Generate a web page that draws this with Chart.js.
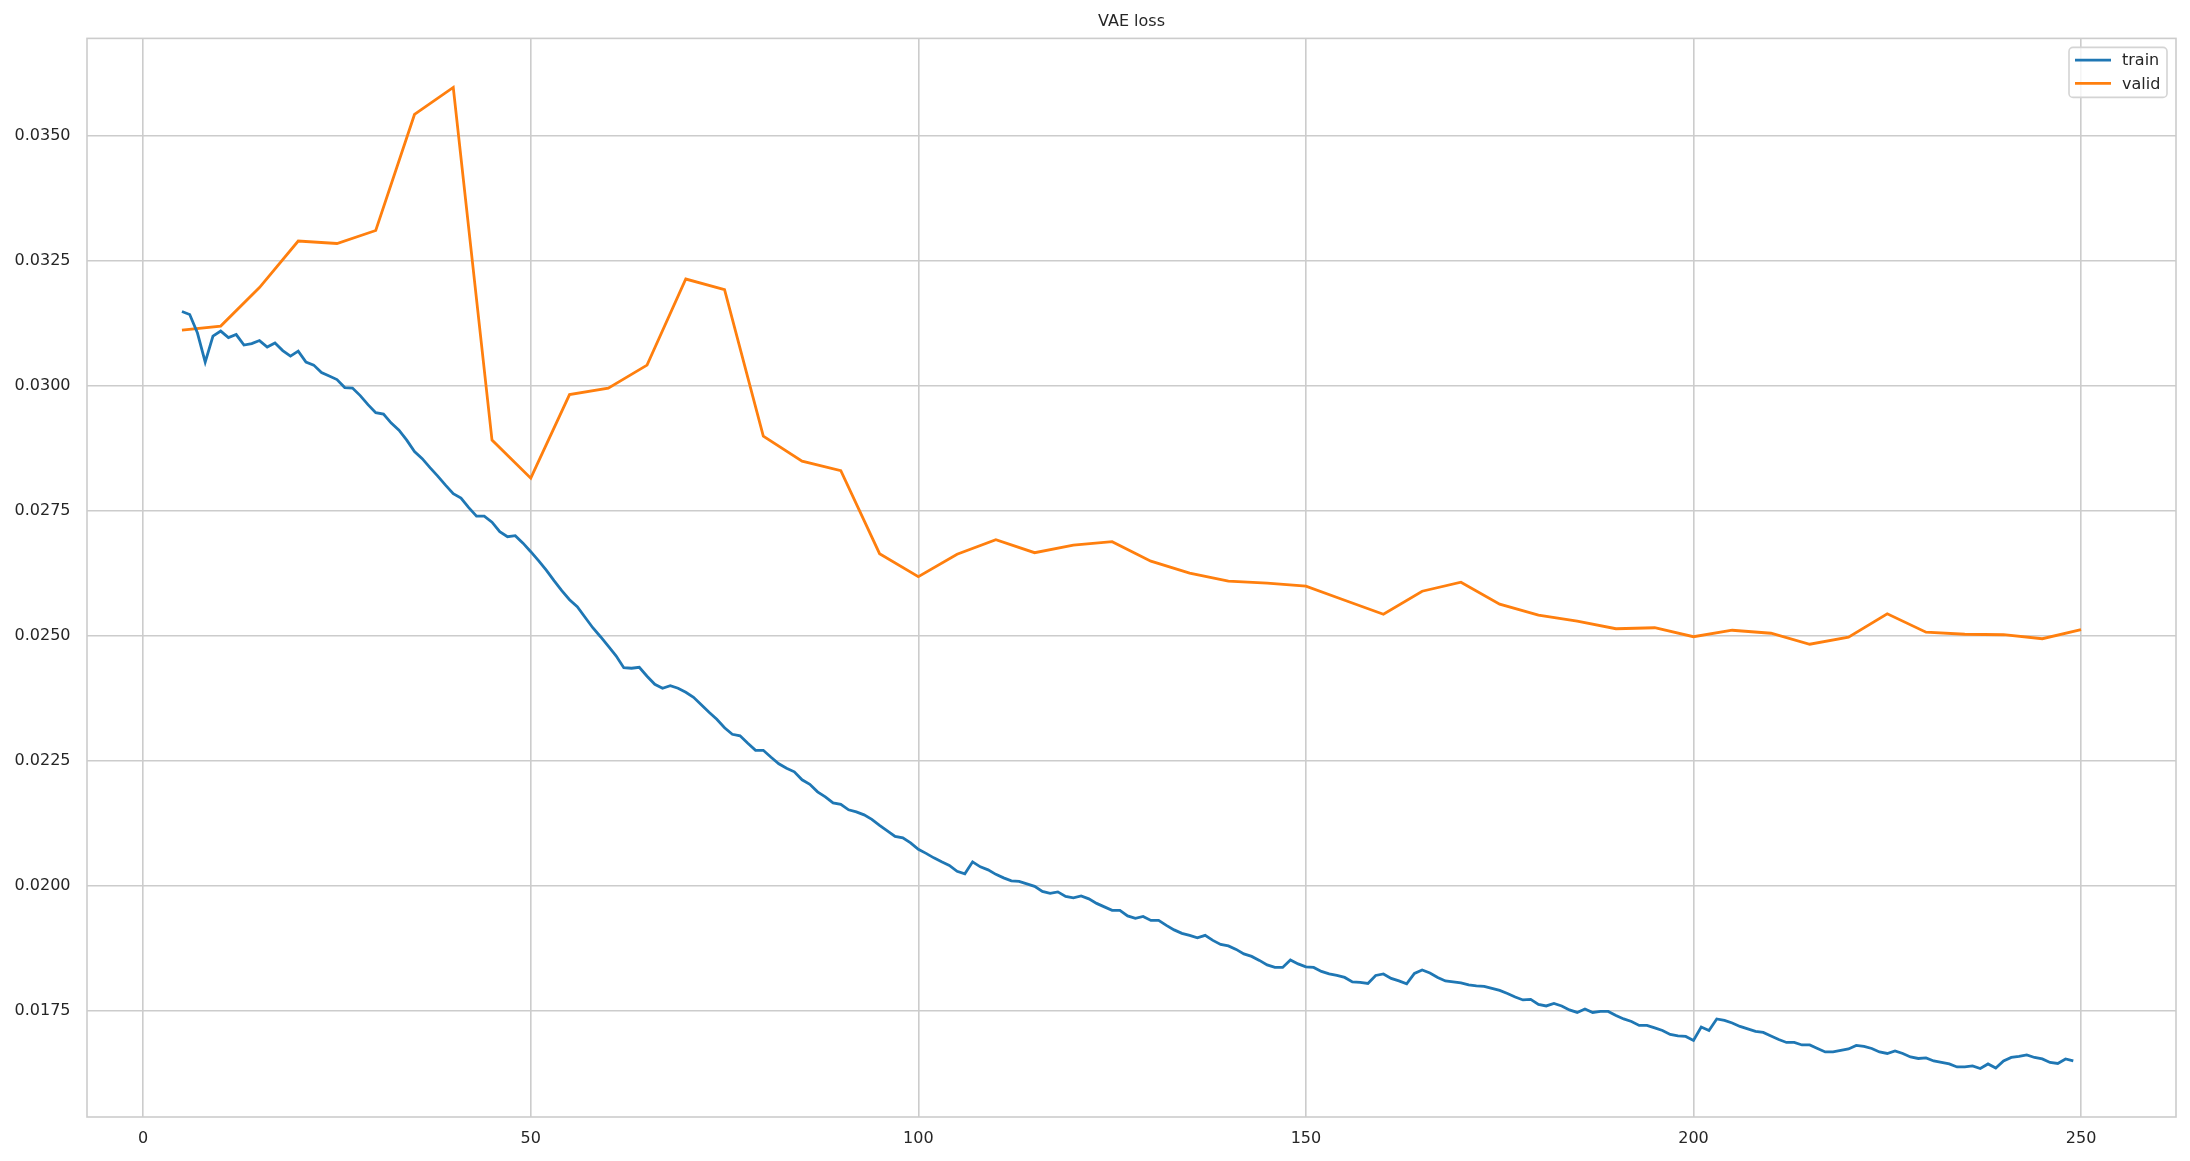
<!DOCTYPE html>
<html>
<head>
<meta charset="utf-8">
<title>VAE loss</title>
<script src="https://cdn.jsdelivr.net/npm/chart.js@4.4.0/dist/chart.umd.min.js"></script>
<style>
  html, body { margin: 0; padding: 0; background: #fff; }
</style>
</head>
<body>
<canvas id="lossChart" width="2190" height="1161"></canvas>
<script>
// train loss, one value per epoch starting at epoch 5
const trainStart = 5;
const trainLoss = [
    0.03148, 0.03142, 0.03105, 0.03047, 0.03099, 0.03109, 0.03096, 0.03102, 0.03081, 0.03084, // 5-14
    0.03090, 0.03077, 0.03085, 0.03070, 0.03059, 0.03069, 0.03047, 0.03041, 0.03026, 0.03019, // 15-24
    0.03012, 0.02996, 0.02995, 0.02980, 0.02962, 0.02946, 0.02943, 0.02925, 0.02911, 0.02891, // 25-34
    0.02868, 0.02854, 0.02836, 0.02819, 0.02801, 0.02784, 0.02775, 0.02756, 0.02739, 0.02739, // 35-44
    0.02727, 0.02708, 0.02698, 0.02700, 0.02685, 0.02668, 0.02650, 0.02631, 0.02610, 0.02590, // 45-54
    0.02572, 0.02558, 0.02537, 0.02516, 0.02498, 0.02479, 0.02460, 0.02436, 0.02435, 0.02437, // 55-64
    0.02419, 0.02403, 0.02395, 0.02400, 0.02395, 0.02387, 0.02377, 0.02362, 0.02347, 0.02333, // 65-74
    0.02316, 0.02303, 0.02300, 0.02285, 0.02271, 0.02271, 0.02257, 0.02244, 0.02235, 0.02228, // 75-84
    0.02212, 0.02203, 0.02188, 0.02178, 0.02166, 0.02163, 0.02152, 0.02148, 0.02142, 0.02133, // 85-94
    0.02121, 0.02110, 0.02099, 0.02096, 0.02086, 0.02073, 0.02065, 0.02056, 0.02048, 0.02041, // 95-104
    0.02029, 0.02024, 0.02048, 0.02038, 0.02032, 0.02023, 0.02016, 0.02010, 0.02009, 0.02004, // 105-114
    0.01999, 0.01989, 0.01985, 0.01988, 0.01979, 0.01976, 0.01980, 0.01974, 0.01965, 0.01958, // 115-124
    0.01951, 0.01951, 0.01940, 0.01935, 0.01939, 0.01931, 0.01931, 0.01921, 0.01912, 0.01905, // 125-134
    0.01901, 0.01896, 0.01901, 0.01891, 0.01883, 0.01880, 0.01873, 0.01864, 0.01859, 0.01851, // 135-144
    0.01842, 0.01837, 0.01837, 0.01852, 0.01844, 0.01838, 0.01837, 0.01829, 0.01824, 0.01821, // 145-154
    0.01817, 0.01808, 0.01807, 0.01805, 0.01821, 0.01824, 0.01815, 0.01810, 0.01804, 0.01825, // 155-164
    0.01832, 0.01826, 0.01817, 0.01810, 0.01808, 0.01806, 0.01802, 0.01800, 0.01799, 0.01795, // 165-174
    0.01791, 0.01785, 0.01778, 0.01772, 0.01773, 0.01763, 0.01760, 0.01765, 0.01760, 0.01752, // 175-184
    0.01747, 0.01754, 0.01747, 0.01749, 0.01749, 0.01741, 0.01734, 0.01729, 0.01721, 0.01721, // 185-194
    0.01716, 0.01711, 0.01703, 0.01700, 0.01699, 0.01691, 0.01718, 0.01711, 0.01734, 0.01731, // 195-204
    0.01726, 0.01719, 0.01714, 0.01709, 0.01707, 0.01700, 0.01693, 0.01687, 0.01687, 0.01682, // 205-214
    0.01682, 0.01675, 0.01668, 0.01668, 0.01671, 0.01674, 0.01681, 0.01679, 0.01675, 0.01668, // 215-224
    0.01665, 0.01670, 0.01665, 0.01658, 0.01655, 0.01656, 0.01650, 0.01647, 0.01644, 0.01638, // 225-234
    0.01638, 0.01640, 0.01635, 0.01644, 0.01636, 0.01650, 0.01657, 0.01659, 0.01662, 0.01657, // 235-244
    0.01654, 0.01647, 0.01645, 0.01654, 0.01650                                              // 245-249
];

// validation loss, every 5 epochs
const validEpochs = [
    5, 10, 15, 20, 25, 30, 35, 40, 45, 50,
    55, 60, 65, 70, 75, 80, 85, 90, 95, 100,
    105, 110, 115, 120, 125, 130, 135, 140, 145, 150,
    155, 160, 165, 170, 175, 180, 185, 190, 195, 200,
    205, 210, 215, 220, 225, 230, 235, 240, 245, 250
];
const validLoss = [
    0.03111, 0.03119, 0.03196, 0.03289, 0.03284, 0.03310, 0.03542, 0.03596, 0.02891, 0.02815,
    0.02982, 0.02995, 0.03041, 0.03213, 0.03192, 0.02899, 0.02849, 0.02830, 0.02664, 0.02618,
    0.02663, 0.02692, 0.02666, 0.02681, 0.02688, 0.02649, 0.02625, 0.02609, 0.02605, 0.02599,
    0.02571, 0.02543, 0.02589, 0.02607, 0.02563, 0.02541, 0.02529, 0.02514, 0.02516, 0.02498,
    0.02511, 0.02505, 0.02483, 0.02497, 0.02544, 0.02507, 0.02503, 0.02502, 0.02494, 0.02512
];

const xTicks = [0, 50, 100, 150, 200, 250];
const chartTitle = 'VAE loss';

const textColor = '#262626';
const gridColor = '#cccccc';
const fontFamily = '"DejaVu Sans", sans-serif';

// outer frame of the axes (all four spines)
const frame = {
    id: 'frame',
    beforeDatasetsDraw(chart) {
        const { ctx, chartArea } = chart;
        ctx.save();
        ctx.strokeStyle = gridColor;
        ctx.lineWidth = 1.6;
        ctx.strokeRect(chartArea.left, chartArea.top, chartArea.right - chartArea.left, chartArea.bottom - chartArea.top);
        ctx.restore();
    }
};

// title centred over the plot area, like matplotlib does it
const axesTitle = {
    id: 'axesTitle',
    afterDraw(chart) {
        const { ctx, chartArea } = chart;
        ctx.save();
        ctx.font = '16px ' + fontFamily;
        ctx.fillStyle = textColor;
        ctx.textAlign = 'center';
        ctx.textBaseline = 'middle';
        ctx.fillText(chartTitle, (chartArea.left + chartArea.right) / 2, 21.5);
        ctx.restore();
    }
};

// matplotlib-like legend box in the upper right corner
const legendBox = {
    id: 'legendBox',
    afterDraw(chart) {
        const { ctx, chartArea } = chart;
        const w = 98, h = 50;
        const x = chartArea.right - 9 - w;
        const y = chartArea.top + 9;
        ctx.save();
        ctx.fillStyle = 'rgba(255, 255, 255, 0.8)';
        ctx.strokeStyle = '#d4d4d4';
        ctx.lineWidth = 1.6;
        ctx.beginPath();
        ctx.roundRect(x, y, w, h, 4);
        ctx.fill();
        ctx.stroke();
        ctx.font = '16px ' + fontFamily;
        ctx.textBaseline = 'middle';
        chart.data.datasets.forEach(function(ds, i) {
            const ly = y + 12.7 + i * 23.3;
            ctx.strokeStyle = ds.borderColor;
            ctx.lineWidth = ds.borderWidth;
            ctx.beginPath();
            ctx.moveTo(x + 6, ly);
            ctx.lineTo(x + 42, ly);
            ctx.stroke();
            ctx.fillStyle = textColor;
            ctx.fillText(ds.label, x + 53, ly + 1);
        });
        ctx.restore();
    }
};

const trainPoints = trainLoss.map((v, i) => ({ x: trainStart + i, y: v }));
const validPoints = validLoss.map((v, i) => ({ x: validEpochs[i], y: v }));

const ctx = document.getElementById('lossChart').getContext('2d');
new Chart(ctx, {
    type: 'line',
    data: {
        datasets: [{
            label: 'train',
            data: trainPoints,
            borderColor: '#1f77b4',
            backgroundColor: '#1f77b4',
            borderWidth: 2.8,
            pointRadius: 0,
            tension: 0
        }, {
            label: 'valid',
            data: validPoints,
            borderColor: '#ff7f0e',
            backgroundColor: '#ff7f0e',
            borderWidth: 2.8,
            pointRadius: 0,
            tension: 0
        }]
    },
    options: {
        responsive: false,
        animation: false,
        devicePixelRatio: 1,
        layout: {
            padding: { left: 0, right: 14, top: 38.4, bottom: 0 }
        },
        plugins: {
            legend: { display: false },
            tooltip: { enabled: false },
            title: { display: false }
        },
        scales: {
            x: {
                type: 'linear',
                min: -7.25,
                max: 262.25,
                afterFit: function(scale) { scale.height = 44; },
                afterBuildTicks: function(scale) {
                    scale.ticks = xTicks.map(v => ({ value: v }));
                },
                ticks: {
                    color: textColor,
                    font: { family: fontFamily, size: 16 },
                    padding: 12,
                    maxRotation: 0,
                    callback: function(v) { return String(v); }
                },
                grid: { color: gridColor, lineWidth: 1.6, drawTicks: false },
                border: { display: false }
            },
            y: {
                type: 'linear',
                min: 0.01538,
                max: 0.03694,
                afterFit: function(scale) { scale.width = 87; },
                ticks: {
                    stepSize: 0.0025,
                    includeBounds: false,
                    color: textColor,
                    font: { family: fontFamily, size: 16 },
                    padding: 16.5,
                    callback: function(v) { return v.toFixed(4); }
                },
                grid: { color: gridColor, lineWidth: 1.6, drawTicks: false },
                border: { display: false }
            }
        }
    },
    plugins: [frame, axesTitle, legendBox]
});
</script>
</body>
</html>
